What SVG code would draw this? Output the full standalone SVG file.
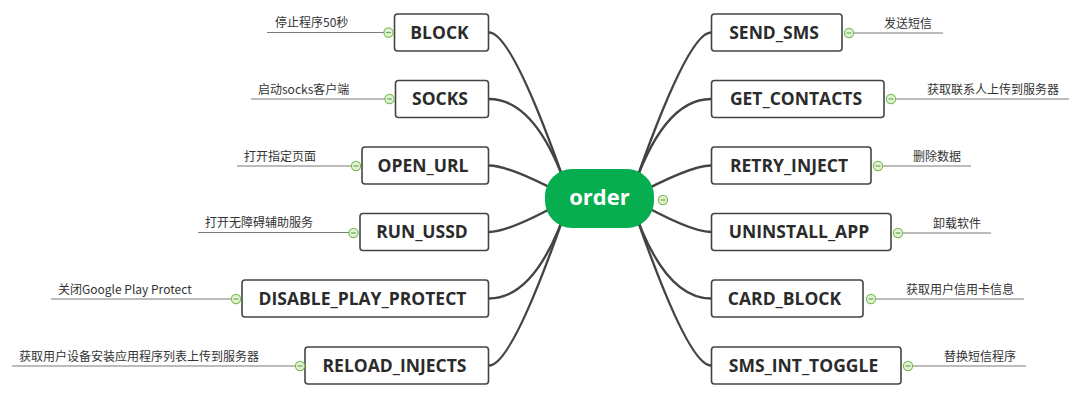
<svg xmlns="http://www.w3.org/2000/svg" width="1082" height="396" viewBox="0 0 1082 396">
<defs>
<style>
.conn{fill:none;stroke:#444;stroke-width:2.4}
.lab{stroke:#7a7a7a;stroke-width:1.2}
.box{fill:#fff;stroke:#444;stroke-width:1.6}
.nt{font-family:"Open Sans","Liberation Sans",sans-serif;font-weight:bold;font-size:17.5px;fill:#2b2b2b;text-anchor:middle}
.lt{font-family:"Noto Sans CJK SC","Open Sans",sans-serif;font-size:12px;fill:#333}
.tog{fill:#e4f3d8;stroke:#7cbf55;stroke-width:1.2}
.tm{stroke:#6aaa45;stroke-width:1.2}
</style>
<g id="toggle"><circle class="tog" cx="0" cy="0" r="4.6"/><line class="tm" x1="-2.4" y1="0" x2="2.4" y2="0"/></g>
</defs>
<rect width="1082" height="396" fill="#fff"/>
<g id="connectors">
<path class="conn" d="M489 32.5 Q513 32.5 570 198"/>
<path class="conn" d="M489 99 Q538 99 570 198"/>
<path class="conn" d="M489 165.5 Q510 165.5 570 198"/>
<path class="conn" d="M489 232 Q510 232 570 198"/>
<path class="conn" d="M489 298.5 Q538 298.5 570 198"/>
<path class="conn" d="M489 365.5 Q513 365.5 570 198"/>
<path class="conn" d="M711 32.5 Q687 32.5 630 198"/>
<path class="conn" d="M711 99 Q662 99 630 198"/>
<path class="conn" d="M711 165.5 Q690 165.5 630 198"/>
<path class="conn" d="M711 232 Q690 232 630 198"/>
<path class="conn" d="M711 298.5 Q662 298.5 630 198"/>
<path class="conn" d="M711 365.5 Q687 365.5 630 198"/>
<line class="lab" x1="267" y1="32.5" x2="384" y2="32.5"/>
<line class="lab" x1="251" y1="99" x2="385" y2="99"/>
<line class="lab" x1="237" y1="166" x2="351" y2="166"/>
<line class="lab" x1="198" y1="232.5" x2="349" y2="232.5"/>
<line class="lab" x1="51" y1="299" x2="231" y2="299"/>
<line class="lab" x1="12" y1="366" x2="295" y2="366"/>
<line class="lab" x1="854" y1="33" x2="943" y2="33"/>
<line class="lab" x1="896" y1="99" x2="1069" y2="99"/>
<line class="lab" x1="883" y1="166" x2="971" y2="166"/>
<line class="lab" x1="903" y1="233" x2="991" y2="233"/>
<line class="lab" x1="876" y1="299" x2="1024" y2="299"/>
<line class="lab" x1="913" y1="366" x2="1026" y2="366"/>
</g>
<g id="root">
<rect x="545" y="169" width="109" height="59" rx="27" fill="#07ae50"/>
<text x="599.5" y="205" font-family="'Open Sans','Liberation Sans',sans-serif" font-weight="bold" font-size="22" fill="#fff" text-anchor="middle">order</text>
<use href="#toggle" x="663" y="200"/>
</g>
<g id="n-block"><rect class="box" x="394.5" y="14" width="94" height="37" rx="3"/><text class="nt" x="439.5" y="38.5">BLOCK</text><use href="#toggle" x="388.5" y="32.5"/><text class="lt" x="275" y="27">停止程序50秒</text></g>
<g id="n-socks"><rect class="box" x="395.5" y="80.5" width="93" height="37" rx="3"/><text class="nt" x="440" y="105">SOCKS</text><use href="#toggle" x="389.5" y="99"/><text class="lt" x="258" y="93.5">启动socks客户端</text></g>
<g id="n-open"><rect class="box" x="362" y="147" width="126.5" height="37" rx="3"/><text class="nt" x="423" y="171.5">OPEN_URL</text><use href="#toggle" x="356" y="166"/><text class="lt" x="244" y="160.5">打开指定页面</text></g>
<g id="n-ussd"><rect class="box" x="360" y="213.5" width="128.5" height="37" rx="3"/><text class="nt" x="422" y="238">RUN_USSD</text><use href="#toggle" x="353.5" y="233"/><text class="lt" x="205" y="227">打开无障碍辅助服务</text></g>
<g id="n-disable"><rect class="box" x="242" y="280" width="246.5" height="37" rx="3"/><text class="nt" x="362.5" y="304.5">DISABLE_PLAY_PROTECT</text><use href="#toggle" x="236" y="299"/><text class="lt" x="58" y="293.5">关闭Google Play Protect</text></g>
<g id="n-reload"><rect class="box" x="305" y="347" width="183.5" height="37" rx="3"/><text class="nt" x="394.5" y="371.5">RELOAD_INJECTS</text><use href="#toggle" x="300" y="366"/><text class="lt" x="19" y="360.5">获取用户设备安装应用程序列表上传到服务器</text></g>
<g id="n-sendsms"><rect class="box" x="711.5" y="14" width="130.5" height="37" rx="3"/><text class="nt" x="774" y="38.5">SEND_SMS</text><use href="#toggle" x="849" y="33"/><text class="lt" x="932" y="27.5" text-anchor="end">发送短信</text></g>
<g id="n-contacts"><rect class="box" x="711.5" y="80.5" width="172.5" height="37" rx="3"/><text class="nt" x="796" y="105">GET_CONTACTS</text><use href="#toggle" x="891" y="99"/><text class="lt" x="1059" y="93.5" text-anchor="end">获取联系人上传到服务器</text></g>
<g id="n-retry"><rect class="box" x="711.5" y="147" width="159.5" height="37" rx="3"/><text class="nt" x="789" y="171.5">RETRY_INJECT</text><use href="#toggle" x="878" y="166"/><text class="lt" x="961" y="160.5" text-anchor="end">删除数据</text></g>
<g id="n-uninstall"><rect class="box" x="711.5" y="213.5" width="179.5" height="37" rx="3"/><text class="nt" x="799" y="238">UNINSTALL_APP</text><use href="#toggle" x="898" y="233"/><text class="lt" x="981" y="227.5" text-anchor="end">卸载软件</text></g>
<g id="n-card"><rect class="box" x="711.5" y="280" width="151.5" height="37" rx="3"/><text class="nt" x="784.5" y="304.5">CARD_BLOCK</text><use href="#toggle" x="871" y="299"/><text class="lt" x="1014" y="293.5" text-anchor="end">获取用户信用卡信息</text></g>
<g id="n-smsint"><rect class="box" x="711.5" y="347" width="189.5" height="37" rx="3"/><text class="nt" x="803.5" y="371.5">SMS_INT_TOGGLE</text><use href="#toggle" x="908" y="366"/><text class="lt" x="1016" y="360.5" text-anchor="end">替换短信程序</text></g>
</svg>
